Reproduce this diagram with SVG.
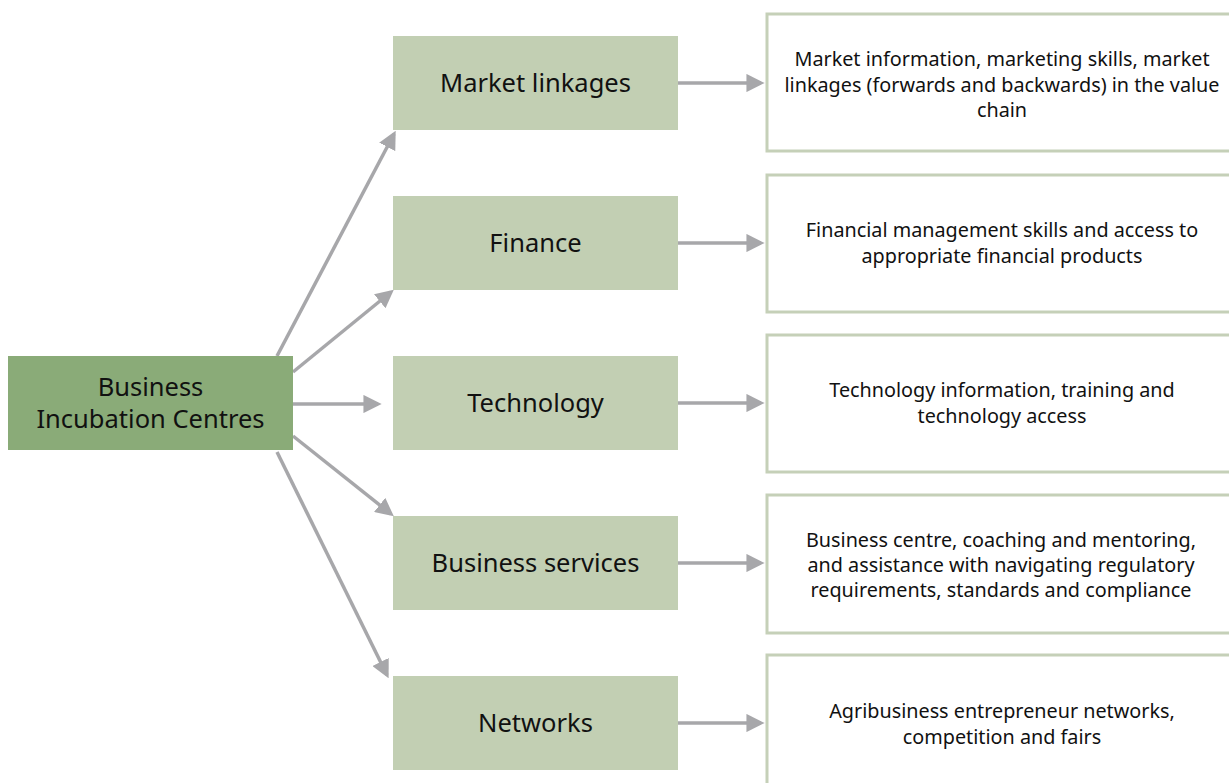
<svg xmlns="http://www.w3.org/2000/svg" width="1229" height="783" viewBox="0 0 1229 783">
<style>
.main{fill:#8aab78}
.mid{fill:#c2cfb3}
.desc{fill:#fff;stroke:#c5d0b8;stroke-width:3}
.t1{font-family:"Noto Sans","Open Sans",sans-serif;font-size:25.5px;fill:#111;text-anchor:middle}
.t2{font-family:"Noto Sans","Open Sans",sans-serif;font-size:19.8px;fill:#111;text-anchor:middle}
.c{stroke:#a7a7aa;stroke-width:3.5;fill:none;marker-end:url(#ah)}
</style>
<defs>
<marker id="ah" viewBox="0 0 10 10" refX="8" refY="5" markerWidth="5.2" markerHeight="5.2" markerUnits="strokeWidth" orient="auto">
<path d="M0,0 L10,5 L0,10 z" fill="#a7a7aa"/>
</marker>
</defs>
<rect width="1229" height="783" fill="#fff"/>
<g id="connectors">
<line class="c" x1="277" y1="356" x2="394" y2="134"/>
<line class="c" x1="293" y1="372" x2="391" y2="292"/>
<line class="c" x1="293" y1="404" x2="378" y2="404"/>
<line class="c" x1="293" y1="436" x2="391" y2="514"/>
<line class="c" x1="277" y1="452" x2="387" y2="675"/>
<line class="c" x1="678" y1="83" x2="761" y2="83"/>
<line class="c" x1="678" y1="243" x2="761" y2="243"/>
<line class="c" x1="678" y1="403" x2="761" y2="403"/>
<line class="c" x1="678" y1="563" x2="761" y2="563"/>
<line class="c" x1="678" y1="723" x2="761" y2="723"/>
</g>
<g id="bic">
<rect class="main" x="8" y="356" width="285" height="94"/>
<text class="t1" x="150.5" y="396">Business</text>
<text class="t1" x="150.5" y="428">Incubation Centres</text>
</g>
<g id="market">
<rect class="mid" x="393" y="36" width="285" height="94"/>
<text class="t1" x="535.5" y="92">Market linkages</text>
</g>
<g id="finance">
<rect class="mid" x="393" y="196" width="285" height="94"/>
<text class="t1" x="535.5" y="252">Finance</text>
</g>
<g id="technology">
<rect class="mid" x="393" y="356" width="285" height="94"/>
<text class="t1" x="535.5" y="412">Technology</text>
</g>
<g id="services">
<rect class="mid" x="393" y="516" width="285" height="94"/>
<text class="t1" x="535.5" y="572">Business services</text>
</g>
<g id="networks">
<rect class="mid" x="393" y="676" width="285" height="94"/>
<text class="t1" x="535.5" y="732">Networks</text>
</g>
<g id="d1">
<rect class="desc" x="767" y="14" width="476" height="137"/>
<text class="t2" x="1002" y="66">Market information, marketing skills, market</text>
<text class="t2" x="1002" y="92">linkages (forwards and backwards) in the value</text>
<text class="t2" x="1002" y="117">chain</text>
</g>
<g id="d2">
<rect class="desc" x="767" y="175" width="476" height="137"/>
<text class="t2" x="1002" y="237">Financial management skills and access to</text>
<text class="t2" x="1002" y="263">appropriate financial products</text>
</g>
<g id="d3">
<rect class="desc" x="767" y="335" width="476" height="137"/>
<text class="t2" x="1002" y="397">Technology information, training and</text>
<text class="t2" x="1002" y="423">technology access</text>
</g>
<g id="d4">
<rect class="desc" x="767" y="495" width="476" height="138"/>
<text class="t2" x="1001" y="547">Business centre, coaching and mentoring,</text>
<text class="t2" x="1001" y="572">and assistance with navigating regulatory</text>
<text class="t2" x="1001" y="597">requirements, standards and compliance</text>
</g>
<g id="d5">
<rect class="desc" x="767" y="655" width="476" height="140"/>
<text class="t2" x="1002" y="718">Agribusiness entrepreneur networks,</text>
<text class="t2" x="1002" y="744">competition and fairs</text>
</g>
</svg>
